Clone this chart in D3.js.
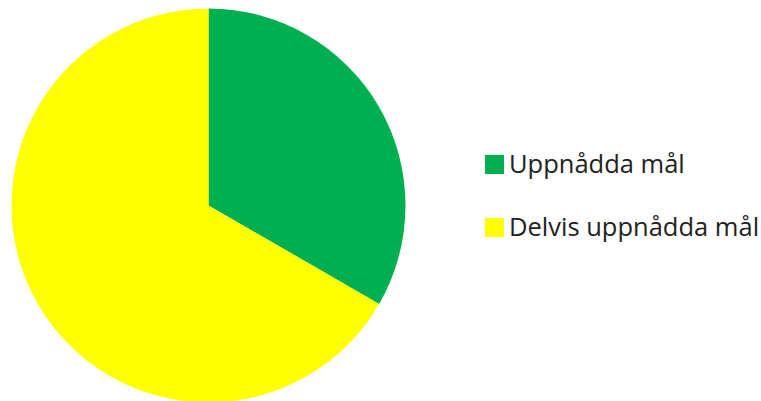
<!DOCTYPE html>
<html>
<head>
    <meta charset="utf-8">
    <title>Måluppfyllelse</title>
    <script src="https://cdnjs.cloudflare.com/ajax/libs/d3/7.8.5/d3.min.js"></script>
    <style>
        body { margin: 0; background: #fff; }
        .legend text { font-family: "Open Sans", sans-serif; font-size: 25.5px; fill: #222; }
    </style>
</head>
<body>
<div id="chart"></div>
<script>
    // data
    const categories = ["Uppnådda mål", "Delvis uppnådda mål"];
    const values = [1, 2];
    const colors = ["#00b050", "#ffff00"];

    const width = 761, height = 401;
    const cx = 208.5, cy = 205.5, radius = 197;

    const svg = d3.select("#chart").append("svg")
        .attr("width", width)
        .attr("height", height);

    const pie = d3.pie().sort(null).value(d => d.value);
    const arc = d3.arc().innerRadius(0).outerRadius(radius);

    const data = categories.map((c, i) => ({ name: c, value: values[i], color: colors[i] }));

    svg.append("g")
        .attr("transform", "translate(" + cx + "," + cy + ")")
        .selectAll("path")
        .data(pie(data))
        .enter()
        .append("path")
        .attr("d", arc)
        .attr("fill", d => d.data.color);

    const legend = svg.append("g")
        .attr("class", "legend")
        .attr("transform", "translate(485,155)");

    const item = legend.selectAll("g")
        .data(data)
        .enter()
        .append("g")
        .attr("transform", (d, i) => "translate(0," + i * 63 + ")");

    item.append("rect")
        .attr("width", 19)
        .attr("height", 19)
        .attr("fill", d => d.color);

    item.append("text")
        .attr("x", 24)
        .attr("y", 18)
        .text(d => d.name);
</script>
</body>
</html>
